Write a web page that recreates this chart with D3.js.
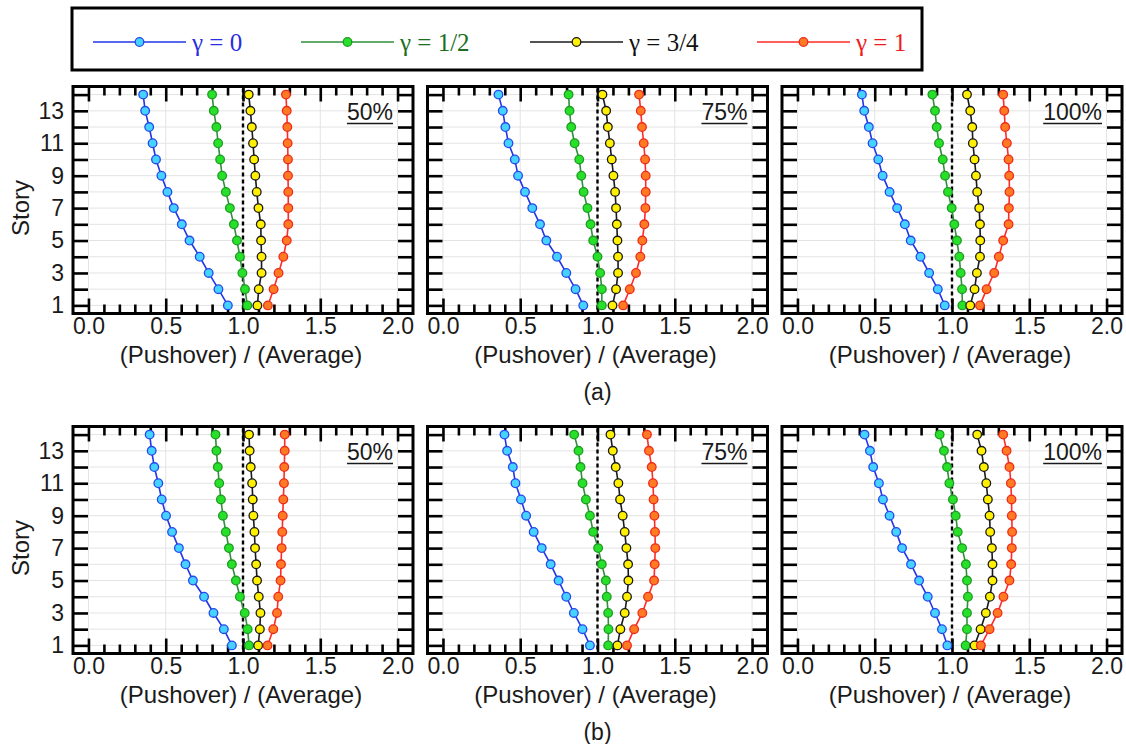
<!DOCTYPE html>
<html><head><meta charset="utf-8">
<script src="https://cdn.jsdelivr.net/npm/d3@7"></script>
<style>body{margin:0;background:#fff} svg{display:block}</style>
</head><body><svg id="c" width="1126" height="744"></svg>
<script>
// ---------------- data ----------------
const stories = [1,2,3,4,5,6,7,8,9,10,11,12,13,14];
const seriesNames = ["γ = 0","γ = 1/2","γ = 3/4","γ = 1"];
const panelLabels = ["50%","75%","100%"];
const rowLabels = ["(a)","(b)"];
const xTickValues = [0,0.5,1,1.5,2];
const xTickLabels = ["0.0","0.5","1.0","1.5","2.0"];
const yTickLabels = [1,3,5,7,9,11,13];
const xTitle = "(Pushover) / (Average)";
const yTitle = "Story";

// row (a)
const a50_g0  = [0.902,0.841,0.778,0.720,0.654,0.604,0.552,0.511,0.472,0.437,0.415,0.393,0.367,0.354];
const a50_g12 = [1.028,1.013,0.996,0.980,0.961,0.941,0.915,0.889,0.865,0.852,0.839,0.828,0.811,0.800];
const a50_g34 = [1.093,1.102,1.120,1.120,1.117,1.115,1.100,1.089,1.080,1.072,1.065,1.057,1.048,1.037];
const a50_g1  = [1.161,1.198,1.230,1.261,1.283,1.293,1.293,1.293,1.291,1.291,1.289,1.287,1.283,1.278];

const a75_g0  = [0.908,0.858,0.798,0.738,0.669,0.628,0.578,0.531,0.486,0.465,0.424,0.404,0.387,0.359];
const a75_g12 = [1.028,1.028,1.017,1.000,0.972,0.955,0.935,0.910,0.895,0.882,0.852,0.830,0.819,0.813];
const a75_g34 = [1.097,1.120,1.133,1.133,1.129,1.125,1.120,1.114,1.103,1.092,1.080,1.067,1.056,1.032];
const a75_g1  = [1.166,1.209,1.249,1.277,1.290,1.303,1.310,1.312,1.312,1.308,1.299,1.288,1.280,1.269];

const a100_g0  = [0.953,0.908,0.852,0.796,0.733,0.695,0.645,0.596,0.551,0.523,0.486,0.462,0.432,0.417];
const a100_g12 = [1.067,1.065,1.056,1.047,1.032,1.015,0.998,0.974,0.955,0.940,0.916,0.901,0.890,0.873];
const a100_g34 = [1.118,1.146,1.161,1.181,1.183,1.181,1.176,1.163,1.155,1.146,1.135,1.131,1.118,1.097];
const a100_g1  = [1.181,1.224,1.273,1.303,1.331,1.366,1.368,1.372,1.370,1.366,1.355,1.344,1.338,1.331];

// row (b)
const b50_g0  = [0.928,0.876,0.809,0.748,0.676,0.628,0.585,0.541,0.502,0.474,0.452,0.426,0.409,0.396];
const b50_g12 = [1.039,1.030,1.011,0.980,0.954,0.928,0.909,0.889,0.870,0.857,0.846,0.837,0.828,0.822];
const b50_g34 = [1.098,1.109,1.113,1.102,1.091,1.085,1.078,1.074,1.067,1.063,1.059,1.050,1.043,1.039];
const b50_g1  = [1.159,1.196,1.220,1.228,1.243,1.246,1.250,1.254,1.257,1.261,1.265,1.267,1.270,1.270];

const b75_g0  = [0.951,0.903,0.847,0.798,0.748,0.697,0.639,0.587,0.538,0.505,0.469,0.452,0.415,0.398];
const b75_g12 = [1.069,1.071,1.069,1.060,1.054,1.028,1.004,0.972,0.951,0.925,0.903,0.890,0.877,0.849];
const b75_g34 = [1.129,1.148,1.176,1.191,1.200,1.198,1.187,1.176,1.163,1.146,1.135,1.118,1.099,1.084];
const b75_g1  = [1.191,1.237,1.290,1.327,1.366,1.370,1.374,1.372,1.368,1.363,1.359,1.351,1.333,1.320];

const b100_g0  = [0.970,0.935,0.890,0.843,0.787,0.735,0.677,0.639,0.596,0.553,0.527,0.490,0.469,0.434];
const b100_g12 = [1.088,1.097,1.097,1.103,1.097,1.090,1.065,1.037,1.024,1.006,0.983,0.968,0.948,0.920];
const b100_g34 = [1.146,1.185,1.219,1.245,1.262,1.262,1.258,1.247,1.243,1.232,1.222,1.206,1.191,1.163];
const b100_g1  = [1.187,1.243,1.295,1.333,1.372,1.383,1.387,1.389,1.387,1.385,1.381,1.372,1.353,1.331];

// ---------------- styles / layout ----------------
const seriesStyles = [
  {line:"#2236e6", fill:"#45d2ff", stroke:"#2448f0", text:"#2a2ee0"},
  {line:"#2f8f3a", fill:"#27e02a", stroke:"#1f9a22", text:"#1c6e1c"},
  {line:"#1a1a1a", fill:"#fff000", stroke:"#1a1a1a", text:"#111111"},
  {line:"#ff2a2a", fill:"#ff7a22", stroke:"#f02a1a", text:"#ee1c1c"}
];
const rows = [
  {label: rowLabels[0], panels: [[a50_g0,a50_g12,a50_g34,a50_g1],[a75_g0,a75_g12,a75_g34,a75_g1],[a100_g0,a100_g12,a100_g34,a100_g1]]},
  {label: rowLabels[1], panels: [[b50_g0,b50_g12,b50_g34,b50_g1],[b75_g0,b75_g12,b75_g34,b75_g1],[b100_g0,b100_g12,b100_g34,b100_g1]]}
];
const colLeft = [73, 427.5, 782];
const rowTop = [86.5, 426.5];
const PW = 340, PH = 227;
const FONT = "Liberation Sans, Arial, sans-serif";
const R = 4.3;

const svg = d3.select("#c");

// legend
const legendStarts = [93, 301, 530, 757];
svg.append("rect").attr("x",72).attr("y",8).attr("width",850).attr("height",62)
  .attr("fill","#fff").attr("stroke","#000").attr("stroke-width",3);
seriesNames.forEach((name,i)=>{
  const s = seriesStyles[i], x0 = legendStarts[i], ly = 42;
  svg.append("line").attr("x1",x0).attr("x2",x0+93).attr("y1",ly).attr("y2",ly)
    .attr("stroke",s.line).attr("stroke-width",1.6);
  svg.append("circle").attr("cx",x0+46.5).attr("cy",ly).attr("r",R)
    .attr("fill",s.fill).attr("stroke",s.stroke).attr("stroke-width",1.3);
  svg.append("text").attr("x",x0+99).attr("y",ly+9).text(name)
    .attr("font-family","Liberation Serif, Times New Roman, serif").attr("font-size",25)
    .attr("fill",s.text);
});

const minorTicks = d3.range(1,20).map(k=>k/10).filter(v=>Math.abs(v*2-Math.round(v*2))>1e-6);

rows.forEach((row,ri)=>{
  const top = rowTop[ri];
  row.panels.forEach((seriesSet,ci)=>{
    const left = colLeft[ci];
    const x = d3.scaleLinear().domain([-0.1,2.1]).range([left,left+PW]);
    const y = d3.scaleLinear().domain([0.5,14.5]).range([top+PH,top]);
    const g = svg.append("g");

    // grid
    g.append("g").selectAll("line").data(stories).join("line")
      .attr("x1",left).attr("x2",left+PW).attr("y1",d=>y(d)).attr("y2",d=>y(d))
      .attr("stroke","#e3e3e3").attr("stroke-width",1);
    g.append("g").selectAll("line").data(xTickValues).join("line")
      .attr("x1",d=>x(d)).attr("x2",d=>x(d)).attr("y1",top).attr("y2",top+PH)
      .attr("stroke","#e3e3e3").attr("stroke-width",1);

    // axes (inward ticks)
    const styleAxis = sel => {
      sel.select(".domain").remove();
      sel.selectAll(".tick line").attr("stroke","#000").attr("stroke-width",2.6);
      sel.selectAll(".tick text").attr("font-family",FONT).attr("font-size",23).attr("fill","#1a1a1a");
    };
    g.append("g").attr("transform",`translate(0,${top+PH})`)
      .call(d3.axisBottom(x).tickValues(xTickValues).tickFormat((d,i)=>xTickLabels[i]).tickSize(-15).tickPadding(4))
      .call(styleAxis);
    g.append("g").attr("transform",`translate(0,${top+PH})`)
      .call(d3.axisBottom(x).tickValues(minorTicks).tickFormat("").tickSize(-9)).call(styleAxis);
    g.append("g").attr("transform",`translate(0,${top})`)
      .call(d3.axisTop(x).tickValues(xTickValues).tickFormat("").tickSize(-15)).call(styleAxis);
    g.append("g").attr("transform",`translate(0,${top})`)
      .call(d3.axisTop(x).tickValues(minorTicks).tickFormat("").tickSize(-9)).call(styleAxis);
    g.append("g").attr("transform",`translate(${left},0)`)
      .call(d3.axisLeft(y).tickValues(stories).tickFormat(d=> (ci===0 && yTickLabels.includes(d)) ? d : "").tickSize(-15).tickPadding(9))
      .call(styleAxis);
    g.append("g").attr("transform",`translate(${left+PW},0)`)
      .call(d3.axisRight(y).tickValues(stories).tickFormat("").tickSize(-15)).call(styleAxis);

    // frame
    g.append("rect").attr("x",left).attr("y",top).attr("width",PW).attr("height",PH)
      .attr("fill","none").attr("stroke","#000").attr("stroke-width",3);

    // reference dashed line at 1.0
    g.append("line").attr("x1",x(1)).attr("x2",x(1)).attr("y1",top+2).attr("y2",top+PH-2)
      .attr("stroke","#000").attr("stroke-width",2.4).attr("stroke-dasharray","4,3");

    // series
    const line = d3.line().x(d=>x(d.v)).y(d=>y(d.s));
    seriesSet.forEach((vals,si)=>{
      const st = seriesStyles[si];
      const pts = stories.map((s,k)=>({s, v: vals[k]}));
      g.append("path").datum(pts).attr("d",line).attr("fill","none")
        .attr("stroke",st.line).attr("stroke-width",1.6);
      g.append("g").selectAll("circle").data(pts).join("circle")
        .attr("cx",d=>x(d.v)).attr("cy",d=>y(d.s)).attr("r",R)
        .attr("fill",st.fill).attr("stroke",st.stroke).attr("stroke-width",1.3);
    });

    // percentage label (underlined)
    const lbl = g.append("text").attr("x",left+PW-20).attr("y",top+33).attr("text-anchor","end")
      .attr("font-family",FONT).attr("font-size",23).attr("fill","#1a1a1a").text(panelLabels[ci]);
    const bb = lbl.node().getBBox();
    g.append("line").attr("x1",bb.x).attr("x2",bb.x+bb.width).attr("y1",top+37).attr("y2",top+37)
      .attr("stroke","#1a1a1a").attr("stroke-width",1.6);

    // x title
    g.append("text").attr("x",x(1)-2).attr("y",top+PH+49).attr("text-anchor","middle")
      .attr("font-family",FONT).attr("font-size",24).attr("fill","#1a1a1a").text(xTitle);

    if (ci===0) {
      g.append("text").attr("transform",`translate(29,${top+PH/2+8}) rotate(-90)`)
        .attr("text-anchor","middle").attr("font-family",FONT).attr("font-size",24)
        .attr("fill","#1a1a1a").text(yTitle);
    }
    if (ci===1) {
      svg.append("text").attr("x",x(1)).attr("y",top+PH+86).attr("text-anchor","middle")
        .attr("font-family",FONT).attr("font-size",23).attr("fill","#1a1a1a").text(row.label);
    }
  });
});
</script></body></html>
